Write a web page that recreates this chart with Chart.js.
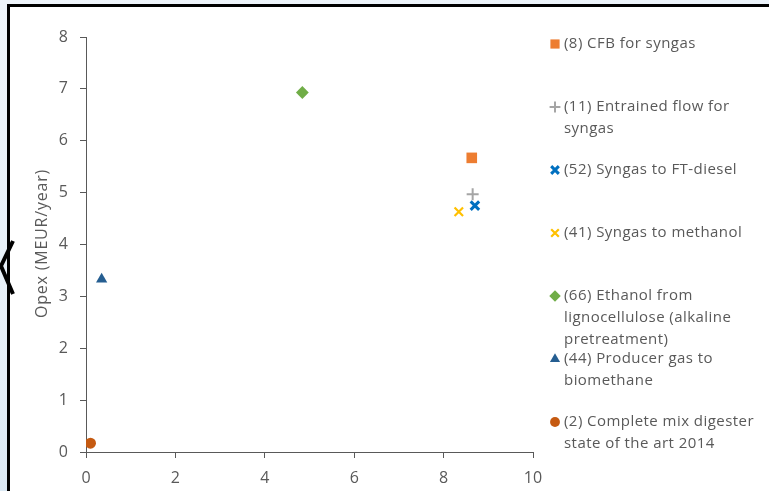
<!DOCTYPE html>
<html>
<head>
<meta charset="utf-8">
<script src="https://cdn.jsdelivr.net/npm/chart.js@4.4.1/dist/chart.umd.min.js"></script>
<style>
  html, body { margin: 0; padding: 0; }
  body {
    width: 769px; height: 491px; overflow: hidden; position: relative;
    background: linear-gradient(170deg, #eef4fa 0%, #e4eef7 60%, #cfe1ef 100%);
  }
  #frame {
    position: absolute; left: 7px; top: 4px; width: 800px; height: 520px;
    border: 3px solid #000; background: #fff;
  }
  #chevron { position: absolute; left: 0; top: 0; }
  #chart { position: absolute; left: 0; top: 0; }
</style>
</head>
<body>
<div id="frame"></div>
<svg id="chevron" width="30" height="491">
  <polyline points="13,241 1,266 13,294" fill="none" stroke="#000" stroke-width="4"/>
</svg>
<canvas id="chart" width="769" height="491"></canvas>
<script>
// Data
const seriesNames = [
  ['(8) CFB for syngas'],
  ['(11) Entrained flow for', 'syngas'],
  ['(52) Syngas to FT-diesel'],
  ['(41) Syngas to methanol'],
  ['(66) Ethanol from', 'lignocellulose (alkaline', 'pretreatment)'],
  ['(44) Producer gas to', 'biomethane'],
  ['(2) Complete mix digester', 'state of the art 2014']
];
const capex = [8.63, 8.65, 8.70, 8.34, 4.84, 0.35, 0.10];
const opex = [5.67, 4.97, 4.75, 4.63, 6.93, 3.33, 0.17];
const xTicks = [0, 2, 4, 6, 8, 10];
const yTicks = [0, 1, 2, 3, 4, 5, 6, 7, 8];
const yTitle = 'Opex (MEUR/year)';

// Marker look per series
const markers = [
  { style: 'rect', color: '#ED7D31', r: 7.5, bw: 0 },
  { style: 'cross', color: '#A5A5A5', r: 6, bw: 2 },
  { style: 'crossRot', color: '#0070C0', r: 6, bw: 3 },
  { style: 'crossRot', color: '#FFC000', r: 6, bw: 2.2 },
  { style: 'rectRot', color: '#70AD47', r: 6.4, bw: 0 },
  { style: 'triangle', color: '#255E91', r: 6.5, bw: 0 },
  { style: 'circle', color: '#C55A11', r: 5.5, bw: 0 }
];

const FONT = '"Open Sans", Lato, sans-serif';
const TEXT = '#595959';

const datasets = seriesNames.map((name, i) => ({
  label: name.join(' '),
  data: [{ x: capex[i], y: opex[i] }],
  pointStyle: markers[i].style,
  pointRadius: markers[i].r,
  pointHoverRadius: markers[i].r,
  pointBackgroundColor: markers[i].color,
  pointBorderColor: markers[i].color,
  pointBorderWidth: markers[i].bw
}));

// Legend beside the plot plus the rotated y title (both with wider letter spacing)
const sideLegend = {
  id: 'sideLegend',
  afterDraw(chart) {
    const ctx = chart.ctx;
    const area = chart.chartArea;
    ctx.save();
    ctx.letterSpacing = '0.45px';
    ctx.font = '15px ' + FONT;
    ctx.textBaseline = 'middle';
    ctx.textAlign = 'left';
    seriesNames.forEach((lines, i) => {
      const y = 44 + i * 63;
      const m = markers[i];
      ctx.fillStyle = m.color;
      ctx.strokeStyle = m.color;
      ctx.lineWidth = m.bw;
      Chart.helpers.drawPoint(ctx, {
        pointStyle: m.style,
        radius: m.style === 'rect' ? 6.5 : m.r * 0.9,
        rotation: 0,
        borderWidth: m.bw
      }, 555, y);
      ctx.fillStyle = TEXT;
      lines.forEach((t, j) => ctx.fillText(t, 564, y + j * 22));
    });

    // y axis title
    ctx.letterSpacing = '0.8px';
    ctx.font = '16px ' + FONT;
    ctx.textAlign = 'center';
    ctx.translate(42, (area.top + area.bottom) / 2 - 1);
    ctx.rotate(-Math.PI / 2);
    ctx.fillText(yTitle, 0, 0);
    ctx.restore();
  }
};

new Chart(document.getElementById('chart'), {
  type: 'scatter',
  data: { datasets },
  options: {
    responsive: false,
    animation: false,
    layout: { padding: { left: 0, right: 236, top: 37, bottom: 0 } },
    plugins: { legend: { display: false }, tooltip: { enabled: false } },
    scales: {
      x: {
        type: 'linear', min: 0, max: 10,
        afterBuildTicks: s => { s.ticks = xTicks.map(v => ({ value: v })); },
        afterFit: s => { s.height = 39; },
        border: { display: true, color: '#595959', width: 1 },
        grid: { drawOnChartArea: false, drawTicks: true, tickLength: 6, color: '#595959' },
        ticks: { color: TEXT, font: { family: FONT, size: 16 }, padding: 11, maxRotation: 0 }
      },
      y: {
        type: 'linear', min: 0, max: 8,
        afterBuildTicks: s => { s.ticks = yTicks.map(v => ({ value: v })); },
        afterFit: s => { s.width = 86; },
        border: { display: true, color: '#595959', width: 1 },
        grid: { drawOnChartArea: false, drawTicks: true, tickLength: 6, color: '#595959' },
        ticks: { color: TEXT, font: { family: FONT, size: 16 }, padding: 12 },
        title: { display: false }
      }
    }
  },
  plugins: [sideLegend]
});
</script>
</body>
</html>
